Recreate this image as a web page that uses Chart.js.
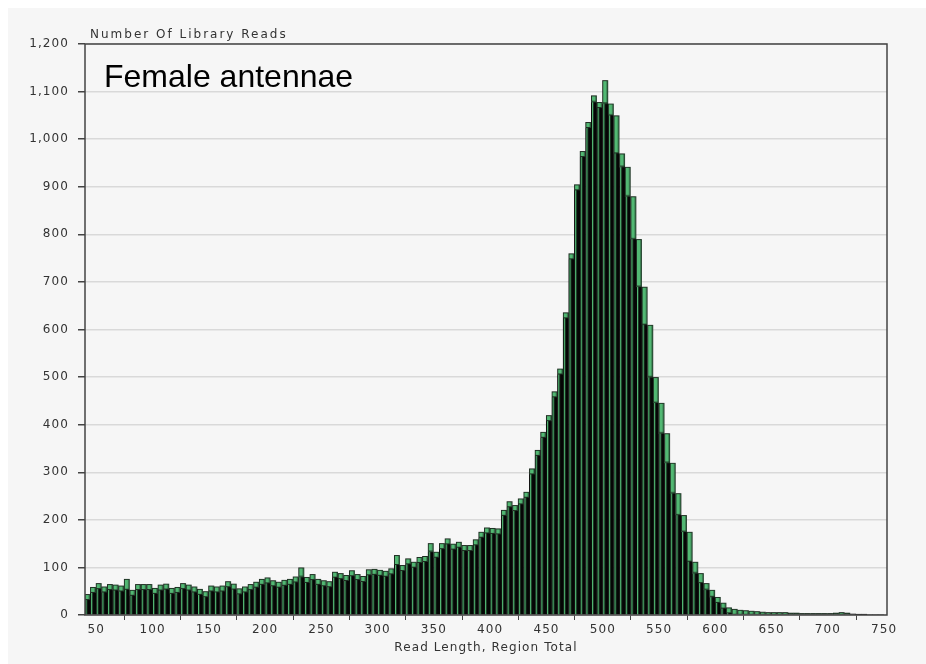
<!DOCTYPE html>
<html>
<head>
<meta charset="utf-8">
<script src="https://cdn.jsdelivr.net/npm/chart.js@4.4.1/dist/chart.umd.min.js"></script>
<style>
  html, body { margin: 0; background: #fff; }
  #panel { position: absolute; left: 8px; top: 8px; width: 918px; height: 656px; background: #f6f6f6; }
  #panel canvas { position: absolute; left: 0; top: 0; }
  .axis-name { position: absolute; left: 82px; top: 20px; font: 12px "DejaVu Sans"; line-height: 12px; letter-spacing: 2px; color: #333; }
  .tissue { position: absolute; left: 96px; top: 52px; font: 32px "Liberation Sans"; line-height: 32px; color: #000; }
</style>
</head>
<body>
<div id="panel">
  <canvas id="hist" width="918" height="656"></canvas>
  <div class="axis-name">Number Of Library Reads</div>
  <div class="tissue">Female antennae</div>
</div>
<script>
// read length bins (centre of each 5-unit bin)
const readLength = [
  42, 47, 52, 57, 62, 67, 72, 77, 82, 87, 92, 97, 102, 107, 112, 117, 122, 127, 132, 137,
  142, 147, 152, 157, 162, 167, 172, 177, 182, 187, 192, 197, 202, 207, 212, 217, 222, 227, 232, 237,
  242, 247, 252, 257, 262, 267, 272, 277, 282, 287, 292, 297, 302, 307, 312, 317, 322, 327, 332, 337,
  342, 347, 352, 357, 362, 367, 372, 377, 382, 387, 392, 397, 402, 407, 412, 417, 422, 427, 432, 437,
  442, 447, 452, 457, 462, 467, 472, 477, 482, 487, 492, 497, 502, 507, 512, 517, 522, 527, 532, 537,
  542, 547, 552, 557, 562, 567, 572, 577, 582, 587, 592, 597, 602, 607, 612, 617, 622, 627, 632, 637,
  642, 647, 652, 657, 662, 667, 672, 677, 682, 687, 692, 697, 702, 707, 712, 717, 722, 727, 732, 737,
  742, 747
];
// number of library reads per bin
const reads = [
  44, 59, 67, 60, 65, 64, 62, 76, 53, 65, 65, 65, 57, 64, 66, 57, 59, 67, 64, 60,
  55, 50, 62, 60, 62, 71, 66, 56, 60, 65, 70, 76, 79, 73, 70, 74, 76, 81, 100, 80,
  86, 76, 73, 71, 91, 88, 84, 94, 86, 82, 96, 97, 95, 93, 98, 126, 105, 119, 112, 122,
  124, 151, 133, 151, 161, 150, 154, 147, 147, 159, 175, 184, 183, 182, 221, 239, 231, 245, 259, 308,
  347, 385, 420, 470, 518, 636, 760, 905, 975, 1036, 1092, 1078, 1124, 1075, 1050, 970, 942, 880, 790, 690,
  610, 500, 446, 382, 320, 256, 210, 175, 112, 88, 67, 53, 38, 26, 16, 13, 11, 10, 9, 8,
  7, 6, 6, 6, 6, 5, 5, 4, 4, 4, 4, 4, 4, 5, 6, 5, 2, 1, 1, 0,
  0, 0
];
const xTicks = [50, 100, 150, 200, 250, 300, 350, 400, 450, 500, 550, 600, 650, 700, 750];

const binWidth = 5;
const green = '#52b873';
const outline = '#1c2a1f';
const textFont = { family: 'DejaVu Sans', size: 12 };

// each bar: green cap where it stands above its right neighbour, dark body with a thin green edge
function barFill(ctx) {
  const chart = ctx.chart;
  const xs = chart.scales.x, ys = chart.scales.y;
  if (ctx.type !== 'data' || !xs || !ys) return green;
  const i = ctx.dataIndex;
  const top = ys.getPixelForValue(reads[i]);
  const base = ys.getPixelForValue(0);
  const next = i + 1 < reads.length ? ys.getPixelForValue(reads[i + 1]) : base;
  const left = xs.getPixelForValue(readLength[i] - binWidth / 2);
  const w = xs.getPixelForValue(readLength[i] + binWidth / 2) - left;
  const h = base - top;
  if (!isFinite(left) || !isFinite(h) || h < 1 || w < 1) return '#050505';
  const cap = Math.min(h, Math.max(6, next - top));
  const off = document.createElement('canvas');
  off.width = Math.ceil(w) + 2;
  off.height = Math.ceil(h) + 2;
  const c = off.getContext('2d');
  c.fillStyle = '#050505';
  c.fillRect(0, 0, off.width, off.height);
  c.fillStyle = green;
  c.fillRect(1, cap, 1.3, h);
  c.fillRect(0, 0, w, cap);
  c.strokeStyle = outline;
  c.lineWidth = 1;
  c.strokeRect(0.5, 0.5, w - 1, cap - 1);
  const pat = chart.ctx.createPattern(off, 'no-repeat');
  pat.setTransform(new DOMMatrix().translate(left, top));
  return pat;
}

const spacing = {
  id: 'spacing',
  beforeUpdate(chart) { chart.ctx.letterSpacing = '1.1px'; },
  beforeDraw(chart) { chart.ctx.letterSpacing = '1.1px'; }
};

const frame = {
  id: 'frame',
  afterDatasetsDraw(chart) {
    const a = chart.chartArea, c = chart.ctx;
    c.save();
    c.strokeStyle = '#444';
    c.lineWidth = 1.5;
    c.strokeRect(a.left, a.top, a.right - a.left, a.bottom - a.top);
    c.restore();
  }
};

new Chart(document.getElementById('hist'), {
  type: 'bar',
  data: {
    datasets: [{
      data: readLength.map((x, i) => ({ x, y: reads[i] })),
      backgroundColor: barFill,
      borderWidth: 0,
      barPercentage: 1,
      categoryPercentage: 1
    }]
  },
  options: {
    responsive: false,
    animation: false,
    layout: { padding: { top: 36, right: 39, left: 0, bottom: 0 } },
    plugins: { legend: { display: false }, tooltip: { enabled: false } },
    scales: {
      x: {
        type: 'linear',
        min: 40,
        max: 752.5,
        offset: false,
        afterBuildTicks: axis => { axis.ticks = xTicks.map(v => ({ value: v })); },
        afterFit: axis => { axis.height = 49; },
        grid: { drawOnChartArea: false, drawTicks: true, tickLength: 5, tickColor: '#444' },
        border: { display: false },
        ticks: { color: '#333', font: textFont, padding: 3, maxRotation: 0, autoSkip: false },
        title: { display: true, text: 'Read Length, Region Total', color: '#333', font: textFont, padding: { top: 0, bottom: 9 } }
      },
      y: {
        min: 0,
        max: 1200,
        afterFit: axis => { axis.width = 77; },
        grid: { color: '#d9d9d9', lineWidth: 1.5, tickColor: '#444', tickLength: 7 },
        border: { display: false },
        ticks: { stepSize: 100, color: '#333', font: textFont, padding: 9 }
      }
    }
  },
  plugins: [spacing, frame]
});
</script>
</body>
</html>
